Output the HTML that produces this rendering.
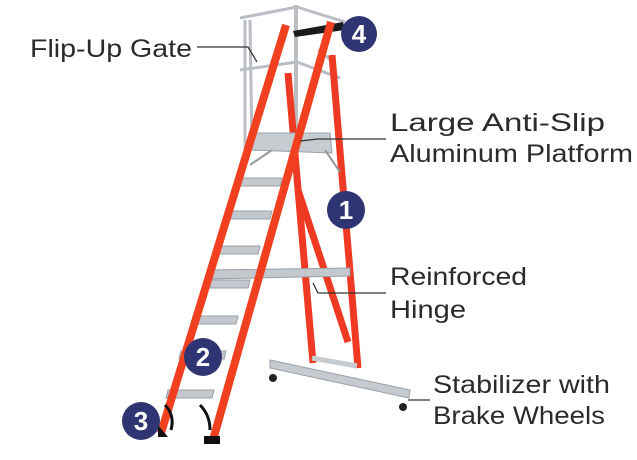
<!DOCTYPE html>
<html><head><style>
html,body{margin:0;padding:0;background:#fff;width:637px;height:460px;overflow:hidden}
svg text{font-family:"Liberation Sans",sans-serif;fill:#2b2b2b}
</style></head><body>
<svg width="637" height="460" viewBox="0 0 637 460" xmlns="http://www.w3.org/2000/svg">
<!-- guard rails -->
<g stroke="#b9bec4" stroke-width="3" fill="none">
<line x1="240" y1="18" x2="297" y2="7"/><line x1="297" y1="7" x2="345" y2="22"/>
<line x1="240" y1="70" x2="297" y2="62"/><line x1="297" y1="62" x2="340" y2="78"/>
<line x1="245" y1="20" x2="245" y2="153"/><line x1="250" y1="20" x2="252" y2="150"/>
<line x1="296" y1="5" x2="296" y2="163" stroke-width="4"/>
<line x1="318" y1="50" x2="331" y2="60"/>
</g>
<polygon points="293,31 343,22 345,30 295,37" fill="#1a1a1a"/>
<!-- back legs -->
<g stroke="#ee3a22" stroke-width="7" stroke-linecap="butt">
<line x1="332" y1="55" x2="358" y2="368"/>
<line x1="288" y1="73" x2="313" y2="363"/>
<line x1="298" y1="190" x2="348" y2="342"/>
</g>
<!-- platform -->
<polygon points="252,133 330,133 332,153 250,150" fill="#c7ccd1" stroke="#9aa0a6"/>
<line x1="272" y1="150" x2="250" y2="165" stroke="#999" stroke-width="2"/>
<line x1="325" y1="150" x2="340" y2="172" stroke="#999" stroke-width="2"/>
<!-- steps -->
<g fill="#c3c8cd" stroke="#9aa0a6">
<polygon points="238,178 282,178 280,186 236,186"/>
<polygon points="227,211 272,211 270,219 225,219"/>
<polygon points="216,246 260,246 258,254 214,254"/>
<polygon points="205,280 250,280 248,288 203,288"/>
<polygon points="193,316 238,316 236,324 191,324"/>
<polygon points="181,351 226,351 224,359 179,359"/>
<polygon points="168,390 214,390 212,398 166,398"/>
<polygon points="207,270 350,268 350,276 207,279"/>
</g>
<!-- stabilizer -->
<polygon points="270,360 410,390 409,398 270,368" fill="#c6cbd0" stroke="#9aa0a6"/>
<line x1="312" y1="358" x2="357" y2="366" stroke="#c6cbd0" stroke-width="5"/>
<circle cx="273" cy="378" r="4" fill="#222"/><circle cx="403" cy="407" r="4" fill="#222"/>
<!-- front rails -->
<g stroke="#f0401f" stroke-width="8">
<line x1="286" y1="25" x2="161" y2="433"/>
<line x1="331" y1="22" x2="213" y2="440"/>
</g>
<path d="M158,425 l0,12 h10 z" fill="#111"/><rect x="204" y="436" width="16" height="8" fill="#111"/>
<path d="M165,405 q10,10 6,25" stroke="#111" stroke-width="3" fill="none"/>
<path d="M200,405 q10,10 10,25" stroke="#111" stroke-width="3" fill="none"/>
<!-- leader lines -->
<g stroke="#333" stroke-width="1.3" fill="none">
<polyline points="197,47 248,47 257,62"/>
<polyline points="386,139 318,139 300,141"/>
<polyline points="386,293 318,293 313,283"/>
<polyline points="430,400 408,400"/>
</g>
<!-- badges -->
<g fill="#2f3472">
<circle cx="359" cy="34" r="18"/><circle cx="346" cy="210" r="19"/>
<circle cx="203" cy="357" r="19"/><circle cx="141" cy="421" r="19"/>
</g>
<g font-size="26" font-weight="bold" text-anchor="middle">
<text x="359" y="43" style="fill:#fff">4</text>
<text x="346" y="219" style="fill:#fff">1</text>
<text x="203" y="366" style="fill:#fff">2</text>
<text x="141" y="430" style="fill:#fff">3</text>
</g>
<!-- labels -->
<g font-size="25">
<text x="30" y="57" textLength="162" lengthAdjust="spacingAndGlyphs">Flip-Up Gate</text>
<text x="390" y="131" textLength="215" lengthAdjust="spacingAndGlyphs">Large Anti-Slip</text>
<text x="390" y="162" textLength="243" lengthAdjust="spacingAndGlyphs">Aluminum Platform</text>
<text x="390" y="285" textLength="137" lengthAdjust="spacingAndGlyphs">Reinforced</text>
<text x="390" y="318" textLength="76" lengthAdjust="spacingAndGlyphs">Hinge</text>
<text x="433" y="393" textLength="177" lengthAdjust="spacingAndGlyphs">Stabilizer with</text>
<text x="433" y="424" textLength="172" lengthAdjust="spacingAndGlyphs">Brake Wheels</text>
</g>
</svg>
</body></html>
